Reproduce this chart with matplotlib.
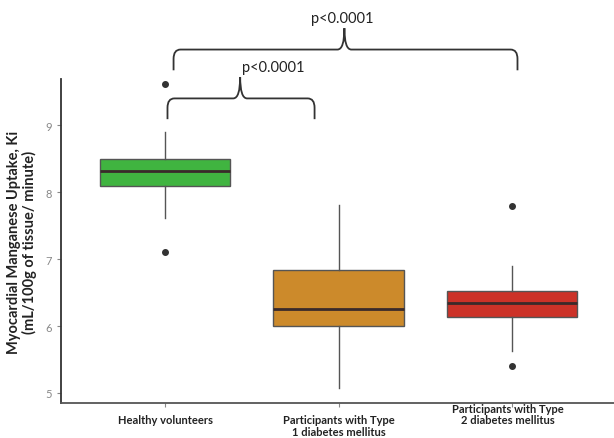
import matplotlib.pyplot as plt
import matplotlib.transforms as mtransforms
from matplotlib.path import Path
from matplotlib.patches import PathPatch

plt.rcParams['font.family'] = ['Lato', 'DejaVu Sans']

# Group names and box statistics
groups = ['Healthy volunteers', 'Participants with Type\n1 diabetes mellitus',
          'Participants with Type\n2 diabetes mellitus']
q1 = [8.09, 6.00, 6.13]
medians = [8.32, 6.26, 6.35]
q3 = [8.49, 6.83, 6.52]
whis_lo = [7.61, 5.07, 5.62]
whis_hi = [8.90, 7.81, 6.89]
outliers = [[9.61, 7.10], [], [7.80, 5.40]]
colors = ['#40b440', '#cc8a2b', '#cc3228']

stats = []
for i in range(len(groups)):
    stats.append(dict(med=medians[i], q1=q1[i], q3=q3[i], whislo=whis_lo[i],
                      whishi=whis_hi[i], fliers=outliers[i], label=groups[i]))

fig = plt.figure(figsize=(6.14, 4.39), dpi=100)
ax = fig.add_axes([61 / 614, 35 / 439, 555 / 614, 324 / 439])

bp = ax.bxp(stats, positions=[1, 2, 3], widths=0.75, patch_artist=True,
            showcaps=False,
            boxprops=dict(edgecolor='#555555', linewidth=1.0),
            medianprops=dict(color='#3a2a2a', linewidth=2.0),
            whiskerprops=dict(color='#555555', linewidth=1.0),
            flierprops=dict(marker='o', markerfacecolor='#333333',
                            markeredgecolor='#333333', markersize=4))
for patch, c in zip(bp['boxes'], colors):
    patch.set_facecolor(c)

ax.set_xlim(0.4, 3.6)
ax.set_ylim(4.85, 9.69)
ax.set_yticks([5, 6, 7, 8, 9])
ax.tick_params(axis='y', colors='#888888', labelsize=8, length=3)
ax.tick_params(axis='x', colors='#888888', length=3, labelcolor='#222222',
               labelsize=8, pad=5)
for lab in ax.get_xticklabels():
    lab.set_fontweight('bold')
    lab.set_linespacing(1.05)
# third label sits a bit higher in the original
off = mtransforms.ScaledTranslation(-3 / 72, 8 / 72, fig.dpi_scale_trans)
ax.get_xticklabels()[2].set_transform(ax.get_xticklabels()[2].get_transform() + off)

for s in ['top', 'right']:
    ax.spines[s].set_visible(False)
ax.spines['left'].set_color('#333333')
ax.spines['left'].set_linewidth(1.3)
ax.spines['bottom'].set_color('#555555')
ax.spines['bottom'].set_linewidth(1.3)

ax.set_ylabel('Myocardial Manganese Uptake, Ki\n(mL/100g of tissue/ minute)',
              fontsize=10.5, fontweight='bold', color='#222222', labelpad=6,
              linespacing=1.1)


def brace(x0, x1, xm, y_end, y_line, y_peak):
    r = 0.04
    ry = (y_line - y_end) * 0.45
    verts = [(x0, y_end), (x0, y_line - ry), (x0, y_line), (x0 + r, y_line),
             (xm - r, y_line), (xm, y_line), (xm, y_peak),
             (xm, y_peak), (xm, y_line), (xm + r, y_line),
             (x1 - r, y_line), (x1, y_line), (x1, y_line - ry), (x1, y_end)]
    codes = [Path.MOVETO, Path.LINETO, Path.CURVE3, Path.CURVE3,
             Path.LINETO, Path.CURVE3, Path.CURVE3,
             Path.MOVETO, Path.CURVE3, Path.CURVE3,
             Path.LINETO, Path.CURVE3, Path.CURVE3, Path.LINETO]
    ax.add_patch(PathPatch(Path(verts, codes), fill=False, edgecolor='#333333',
                           linewidth=1.3, clip_on=False))


brace(1.014, 1.862, 1.433, 9.09, 9.40, 9.72)
ax.text(1.444, 9.76, 'p<0.0001', ha='left', va='bottom', fontsize=10.5,
        color='#222222', clip_on=False)
brace(1.049, 3.032, 2.034, 9.82, 10.13, 10.45)
ax.text(2.02, 10.49, 'p<0.0001', ha='center', va='bottom', fontsize=10.5,
        color='#222222', clip_on=False)

fig.savefig('out.png', dpi=100)
